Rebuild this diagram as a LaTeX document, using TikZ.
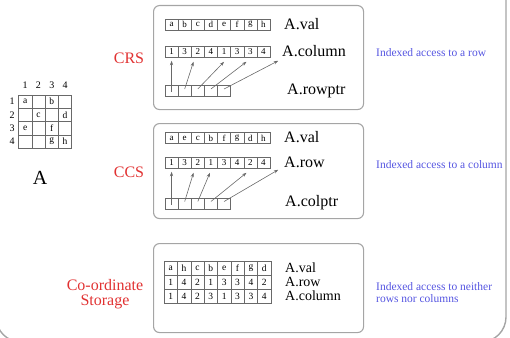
\documentclass[tikz,border=0pt]{standalone}
\usepackage{fontspec}
\setmainfont{Liberation Serif}
\usetikzlibrary{arrows.meta,calc}
\definecolor{lblred}{RGB}{225,50,50}
\definecolor{lblblue}{RGB}{85,85,225}
\definecolor{boxgray}{RGB}{165,165,165}
\definecolor{cellgray}{RGB}{105,105,105}
\tikzset{
  panel/.style={draw=boxgray, line width=1.1pt, rounded corners=6pt},
  arrcell/.style={draw=cellgray, line width=0.5pt, minimum width=13.125pt, minimum height=11pt,
     inner sep=0pt, font=\fontsize{9}{9}\selectfont},
  tabcell/.style={draw=cellgray, line width=0.5pt, minimum width=13.375pt, minimum height=14pt,
     inner sep=0pt, font=\fontsize{9.5}{9.5}\selectfont},
  matcell/.style={draw=cellgray, line width=0.5pt, minimum width=13.3pt, minimum height=13.3pt,
     inner sep=0pt, font=\fontsize{9.5}{9.5}\selectfont},
  arrname/.style={anchor=west, inner sep=0pt, font=\fontsize{16}{16}\selectfont},
  tabname/.style={anchor=west, inner sep=0pt, font=\fontsize{14}{14}\selectfont},
  method/.style={text=lblred, inner sep=0pt, align=center, font=\fontsize{16}{15}\selectfont},
  note/.style={text=lblblue, anchor=west, inner sep=0pt, align=left, font=\fontsize{11.5}{12}\selectfont},
  idx/.style={inner sep=0pt, font=\fontsize{10}{10}\selectfont},
  ptr/.style={draw=cellgray, line width=0.6pt, -{Stealth[length=4.5pt,width=3.2pt]}},
}
\begin{document}
\begin{tikzpicture}[x=1pt,y=-1pt]
\useasboundingbox (0,0) rectangle (510,337);
\begin{scope}
\clip (0,0) rectangle (510,337);
\draw[draw=boxgray, line width=1.4pt, rounded corners=25pt] (-4,-30) rectangle (506,342);
\end{scope}

% matrix A
\foreach \j in {1,...,4} {
  \node[idx] (h\j) at ({18.5+13.3*(\j-0.5)},85) {\j};
  \node[idx] (r\j) at (12,{95+13.3*(\j-0.5)}) {\j};
}
\foreach \i/\row in {1/{a,,b,},2/{,c,,d},3/{e,,f,},4/{,,g,h}} {
  \foreach \v [count=\j] in \row {
    \node[matcell] (m\i\j) at ({18.5+13.3*(\j-0.5)},{95+13.3*(\i-0.5)}) {\v};
  }
}
\node[inner sep=0pt, font=\fontsize{20}{20}\selectfont] (Aname) at (40,178) {A};

% panels
\node[panel, minimum width=210pt, minimum height=104pt, anchor=north west] (p1) at (153,5) {};
\node[panel, minimum width=210pt, minimum height=95pt, anchor=north west] (p2) at (153,123) {};
\node[panel, minimum width=210pt, minimum height=89pt, anchor=north west] (p3) at (153,243) {};

\node[method] (crs) at (129,58) {CRS};
\node[method] (ccs) at (129,172) {CCS};
\node[method] (coo) at (105,294) {Co-ordinate\\Storage};

\node[note] (n1) at (376,53) {Indexed access to a row};
\node[note] (n2) at (376,165) {Indexed access to a column};
\node[note] (n3) at (376,293) {Indexed access to neither\\rows nor columns};

% CRS
\foreach \v [count=\k] in {a,b,c,d,e,f,g,h}
  \node[arrcell] (av\k) at ({165+13.125*(\k-0.5)},24.5) {\v};
\foreach \v [count=\k] in {1,3,2,4,1,3,3,4}
  \node[arrcell] (ac\k) at ({165+13.125*(\k-0.5)},52) {\v};
\foreach \k in {1,...,5}
  \node[arrcell] (ar\k) at ({165+13.125*(\k-0.5)},91) {};
\node[arrname] (avl) at (284,24) {A.val};
\node[arrname] (acl) at (282,51) {A.column};
\node[arrname] (arl) at (287,91) {A.rowptr};
\coordinate (aend) at ([xshift=8pt,yshift=-3pt]ac8.south east);
\draw[ptr] ([yshift=-1pt]ar1.center) -- ([yshift=-3pt]ac1.south);
\draw[ptr] ([yshift=2pt]ar2.center) -- ([xshift=2.5pt,yshift=-4pt]ac3.south west);
\draw[ptr] ([yshift=2pt]ar3.center) -- ([yshift=-4pt]ac5.south);
\draw[ptr] ([yshift=2pt]ar4.center) -- ([xshift=3pt,yshift=-4pt]ac7.south west);
\draw[ptr] ([yshift=2pt]ar5.center) -- (aend);

% CCS
\foreach \v [count=\k] in {a,e,c,b,f,g,d,h}
  \node[arrcell] (bv\k) at ({165+13.125*(\k-0.5)},138) {\v};
\foreach \v [count=\k] in {1,3,2,1,3,4,2,4}
  \node[arrcell] (bc\k) at ({165+13.125*(\k-0.5)},163) {\v};
\foreach \k in {1,...,5}
  \node[arrcell] (br\k) at ({165+13.125*(\k-0.5)},203.5) {};
\node[arrname] (bvl) at (284,137) {A.val};
\node[arrname] (bcl) at (284,162) {A.row};
\node[arrname] (brl) at (285,203) {A.colptr};
\coordinate (bend) at ([xshift=8pt,yshift=-1pt]bc8.south east);
\draw[ptr] ([yshift=-1pt]br1.center) -- ([yshift=-3pt]bc1.south);
\draw[ptr] ([yshift=2pt]br2.center) -- ([xshift=2.5pt,yshift=-4pt]bc3.south west);
\draw[ptr] ([yshift=2pt]br3.center) -- ([xshift=-1pt,yshift=-4pt]bc4.south);
\draw[ptr] ([yshift=2pt]br4.center) -- ([xshift=3pt,yshift=-4pt]bc7.south west);
\draw[ptr] ([yshift=2pt]br5.center) -- (bend);

% Coordinate storage
\foreach \v [count=\k] in {a,h,c,b,e,f,g,d}
  \node[tabcell] (cv\k) at ({164+13.375*(\k-0.5)},268) {\v};
\foreach \v [count=\k] in {1,4,2,1,3,3,4,2}
  \node[tabcell] (cr\k) at ({164+13.375*(\k-0.5)},282) {\v};
\foreach \v [count=\k] in {1,4,2,3,1,3,3,4}
  \node[tabcell] (cc\k) at ({164+13.375*(\k-0.5)},296) {\v};
\node[tabname] (cvl) at (285,268) {A.val};
\node[tabname] (crl) at (285,282) {A.row};
\node[tabname] (ccl) at (285,296) {A.column};
\end{tikzpicture}
\end{document}
